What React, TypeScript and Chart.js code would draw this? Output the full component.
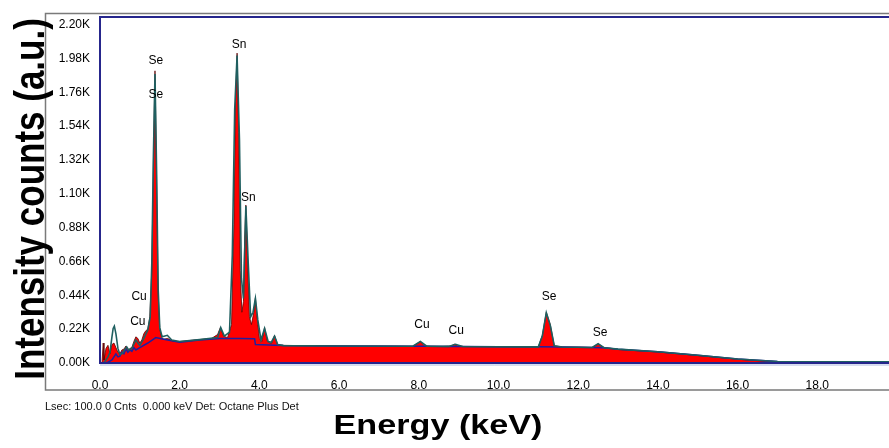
import React, { useEffect, useRef } from "react";
import { Chart, registerables } from "chart.js";

Chart.register(...registerables);

// Measured spectrum (red filled)
const spectrumEnergy = [
  0.0, 0.05, 0.08, 0.1, 0.15, 0.2, 0.25, 0.3, 0.35, 0.4, 0.45, 0.5, 0.55, 0.6, 0.65, 0.7, 0.75, 0.8, 0.85, 0.9,
  0.95, 1.0, 1.05, 1.1, 1.15, 1.2, 1.25, 1.3, 1.34, 1.38, 1.42, 1.46, 1.5, 1.55, 1.6, 1.7, 1.8, 1.9, 2.0, 2.2,
  2.4, 2.6, 2.8, 2.95, 3.02, 3.1, 3.2, 3.3, 3.36, 3.4, 3.44, 3.48, 3.52, 3.56, 3.6, 3.63, 3.66, 3.7, 3.75, 3.8,
  3.86, 3.9, 3.94, 4.0, 4.06, 4.13, 4.2, 4.3, 4.38, 4.46, 4.6, 5.0, 5.5, 6.0, 6.5, 7.0, 7.5, 7.85, 7.95, 8.04,
  8.14, 8.3, 8.6, 8.8, 8.9, 9.0, 9.5, 10.0, 10.5, 11.0, 11.1, 11.2, 11.3, 11.4, 11.6, 12.0, 12.35, 12.5, 12.65, 12.8,
  13.0, 13.5, 14.0, 14.5, 15.0, 15.5, 16.0, 16.5, 17.0, 17.5, 18.0, 18.5, 19.0, 19.8,
];
const spectrumCounts = [
  0, 0, 130, 20, 95, 115, 60, 120, 130, 100, 70, 60, 85, 90, 110, 80, 95, 100, 140, 170,
  160, 130, 150, 190, 210, 220, 300, 600, 1300, 1900, 1200, 450, 220, 165, 155, 160, 145, 140, 140, 145,
  150, 155, 160, 185, 230, 175, 165, 250, 900, 1700, 2015, 1500, 600, 330, 400, 800, 1027, 700, 300, 250,
  330, 423, 300, 160, 140, 230, 140, 125, 180, 118, 115, 113, 112, 111, 110, 110, 109, 108, 125, 140,
  112, 108, 107, 110, 122, 108, 107, 106, 105, 105, 180, 330, 250, 112, 104, 103, 101, 125, 100, 96,
  88, 80, 72, 61, 49, 37, 25, 15, 9, 6, 4, 3, 2, 1,
];

// Fitted envelope (teal line)
const fitEnergy = [
  0.1, 0.15, 0.2, 0.25, 0.3, 0.33, 0.36, 0.4, 0.45, 0.5, 0.55, 0.6, 0.67, 0.72, 0.8, 0.9, 0.95, 1.0, 1.1, 1.2,
  1.26, 1.3, 1.34, 1.38, 1.42, 1.46, 1.5, 1.56, 1.69, 1.8, 2.0, 2.5, 2.95, 3.03, 3.12, 3.25, 3.32, 3.38, 3.44, 3.5,
  3.55, 3.6, 3.66, 3.72, 3.78, 3.84, 3.9, 3.96, 4.04, 4.13, 4.22, 4.3, 4.38, 4.46, 4.6, 6.0, 7.85, 8.04, 8.2, 8.75,
  8.92, 9.1, 10.0, 11.0, 11.1, 11.2, 11.3, 11.4, 11.6, 12.35, 12.5, 12.65, 13.0, 14.0, 15.0, 16.0, 17.0, 18.0, 19.0, 19.8,
];
const fitCounts = [
  5, 20, 40, 70, 170, 225, 240, 190, 95, 55, 60, 80, 105, 85, 95, 150, 130, 115, 160, 215,
  300, 650, 1350, 1880, 1250, 480, 230, 170, 180, 150, 140, 152, 165, 230, 175, 200, 700, 1650, 2000, 1450,
  550, 420, 1020, 650, 300, 330, 420, 280, 150, 225, 140, 135, 175, 120, 113, 111, 109, 140, 110, 108,
  122, 107, 106, 105, 175, 328, 245, 112, 104, 101, 125, 99, 90, 73, 50, 26, 10, 8, 7, 7,
];

// Background (blue line)
const bgEnergy = [
  0.1, 0.2, 0.3, 0.4, 0.45, 0.5, 0.55, 0.6, 0.65, 0.7, 0.75, 0.8, 0.85, 0.9, 1.0, 1.2, 1.4, 1.6, 1.8, 2.0,
  2.5, 3.0, 3.5, 3.88, 3.9, 4.4, 4.6, 6.0, 7.85, 8.2, 8.75, 9.1, 10.0, 11.0, 11.6, 12.35, 12.65, 13.0, 14.0, 15.0,
  16.0, 17.0, 18.0, 19.0, 19.8,
];
const bgCounts = [
  0, 5, 20, 60, 40, 45, 70, 60, 90, 70, 85, 75, 100, 85, 100, 130, 165, 155, 145, 135,
  150, 160, 160, 158, 120, 116, 113, 111, 109, 109, 108, 107, 106, 105, 104, 101, 99, 90, 73, 50,
  26, 10, 8, 7, 7,
];

// Peak labels
const peakNames = ["Se", "Se", "Sn", "Sn", "Cu", "Cu", "Cu", "Cu", "Se", "Se"];
const peakEnergy = [1.4, 1.4, 3.49, 3.72, 0.98, 0.95, 8.08, 8.94, 11.27, 12.55];
const peakCounts = [1964, 1742, 2068, 1073, 429, 267, 247, 208, 429, 195];

// Axis settings
const xMin = 0;
const xMax = 19.8;
const xStep = 2;
const yMin = 0;
const yMax = 2250;
const yStep = 220;

const footerText = "Lsec: 100.0 0 Cnts  0.000 keV Det: Octane Plus Det";
const xTitle = "Energy (keV)";
const yTitle = "Intensity counts (a.u.)";

const toPoints = (xs: number[], ys: number[]) => xs.map((x, i) => ({ x, y: ys[i] }));

const decorPlugin = {
  id: "decor",
  beforeDraw(chart: any) {
    const ctx = chart.ctx;
    const { left, top, bottom } = chart.chartArea;
    ctx.save();
    ctx.fillStyle = "#ffffff";
    ctx.fillRect(0, 0, chart.width, chart.height);
    // outer grey frame
    ctx.strokeStyle = "#7a7a7a";
    ctx.lineWidth = 1.5;
    ctx.beginPath();
    ctx.moveTo(chart.width, top - 3.5);
    ctx.lineTo(left - 54.5, top - 3.5);
    ctx.lineTo(left - 54.5, bottom + 27);
    ctx.lineTo(chart.width, bottom + 27);
    ctx.stroke();
    ctx.restore();
  },
  afterDraw(chart: any) {
    const ctx = chart.ctx;
    const { left, top, right, bottom } = chart.chartArea;
    const xs = chart.scales.x;
    const ys = chart.scales.y;
    ctx.save();
    // plot border
    ctx.strokeStyle = "#26268c";
    ctx.lineWidth = 2;
    ctx.beginPath();
    ctx.moveTo(right, top);
    ctx.lineTo(left, top);
    ctx.lineTo(left, bottom);
    ctx.lineTo(right, bottom);
    ctx.stroke();
    ctx.strokeStyle = "rgba(120,140,200,0.6)";
    ctx.lineWidth = 1;
    ctx.beginPath();
    ctx.moveTo(left, bottom + 2);
    ctx.lineTo(right, bottom + 2);
    ctx.stroke();

    // peak labels
    ctx.fillStyle = "#000000";
    ctx.font = '12px "Liberation Sans", Arial, sans-serif';
    ctx.textAlign = "center";
    ctx.textBaseline = "middle";
    peakNames.forEach((n, i) => {
      ctx.fillText(n, xs.getPixelForValue(peakEnergy[i]), ys.getPixelForValue(peakCounts[i]));
    });

    // footer text
    ctx.fillStyle = "#111111";
    ctx.font = '11px "Liberation Sans", Arial, sans-serif';
    ctx.textAlign = "left";
    ctx.fillText(footerText, left - 55, bottom + 44);

    // x title
    ctx.fillStyle = "#000000";
    ctx.save();
    ctx.translate(438, bottom + 71);
    ctx.scale(1.22, 1);
    ctx.font = 'bold 28px "Liberation Sans", Arial, sans-serif';
    ctx.textAlign = "center";
    ctx.textBaseline = "alphabetic";
    ctx.fillText(xTitle, 0, 0);
    ctx.restore();

    // y title
    ctx.save();
    ctx.translate(44, (top + bottom) / 2 + 9);
    ctx.scale(1.2, 1);
    ctx.rotate(-Math.PI / 2);
    ctx.font = 'bold 35px "Liberation Sans", Arial, sans-serif';
    ctx.textAlign = "center";
    ctx.textBaseline = "alphabetic";
    ctx.fillText(yTitle, 0, 0);
    ctx.restore();

    ctx.restore();
  },
};

export default function App() {
  const ref = useRef<HTMLCanvasElement | null>(null);
  useEffect(() => {
    if (!ref.current) return;
    const chart = new Chart(ref.current, {
      type: "line",
      data: {
        datasets: [
          {
            label: "Fit",
            data: toPoints(fitEnergy, fitCounts),
            borderColor: "#1f5f60",
            borderWidth: 1.6,
            pointRadius: 0,
            fill: false,
            tension: 0,
          },
          {
            label: "Background",
            data: toPoints(bgEnergy, bgCounts),
            borderColor: "#1f1fa0",
            borderWidth: 1.5,
            pointRadius: 0,
            fill: false,
            tension: 0,
          },
          {
            label: "Spectrum",
            data: toPoints(spectrumEnergy, spectrumCounts),
            borderColor: "#5a0000",
            borderWidth: 0.8,
            backgroundColor: "#ff0000",
            pointRadius: 0,
            fill: "origin",
            tension: 0,
          },
        ],
      },
      options: {
        responsive: false,
        animation: false,
        devicePixelRatio: 1,
        layout: { padding: { top: 17, left: 0, right: 0, bottom: 0 } },
        plugins: { legend: { display: false }, tooltip: { enabled: false } },
        scales: {
          x: {
            type: "linear",
            min: xMin,
            max: xMax,
            grid: { display: false },
            border: { display: false },
            ticks: {
              stepSize: xStep,
              includeBounds: false,
              padding: 7,
              color: "#000",
              font: { family: '"Liberation Sans", Arial, sans-serif', size: 12 },
              maxRotation: 0,
              callback: (v: any) => Number(v).toFixed(1),
            },
            afterFit: (s: any) => {
              s.height = 85;
            },
          },
          y: {
            type: "linear",
            min: yMin,
            max: yMax,
            grid: { display: false },
            border: { display: false },
            ticks: {
              stepSize: yStep,
              includeBounds: false,
              padding: 2,
              color: "#000",
              font: { family: '"Liberation Sans", Arial, sans-serif', size: 12 },
              callback: (v: any) => (Number(v) / 1000).toFixed(2) + "K",
            },
            afterFit: (s: any) => {
              s.width = 100;
            },
          },
        },
      },
      plugins: [decorPlugin],
    });
    return () => chart.destroy();
  }, []);
  return (
    <div style={{ position: "fixed", left: 0, top: 0, width: 889, height: 448, background: "#fff" }}>
      <canvas ref={ref} width={889} height={448} />
    </div>
  );
}
